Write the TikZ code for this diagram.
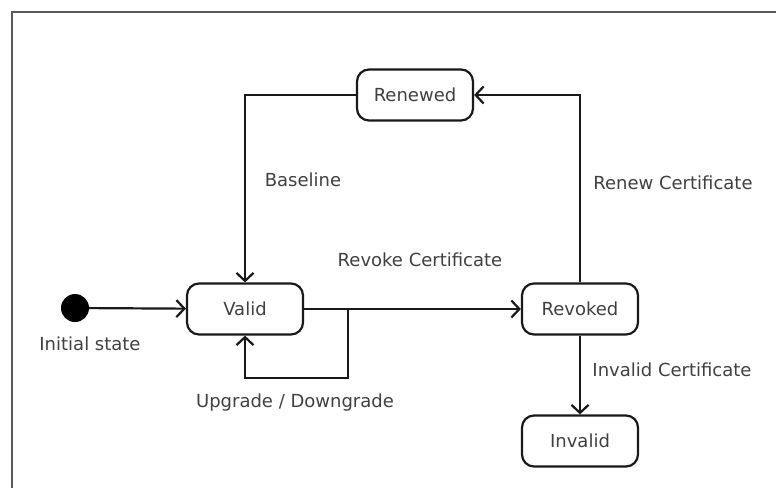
\documentclass[tikz,border=0pt]{standalone}
\usepackage{fontspec}
\setmainfont{DejaVu Sans}
\usetikzlibrary{arrows.meta}
\begin{document}
\begin{tikzpicture}[x=1pt,y=-1pt,
  state/.style={draw=black!90, line width=2.2pt, rounded corners=12pt,
    minimum width=116pt, minimum height=51pt, inner sep=0pt,
    font=\fontsize{18}{21}\selectfont, text=black!75},
  lbl/.style={font=\fontsize{18}{21}\selectfont, text=black!75, inner sep=0pt},
  arr/.style={draw=black!90, line width=2.2pt,
    -{Straight Barb[length=8pt,width=17pt,line width=2.2pt]}}]
\useasboundingbox (0,0) rectangle (776,488);
% outer frame (top and left edges)
\draw[black!65, line width=2pt] (776,12) -- (12,12) -- (12,488);

% states
\node[circle, fill=black, minimum size=28pt, inner sep=0pt] (init) at (75,308) {};
\node[state] (valid) at (245,309) {Valid};
\node[state] (revoked) at (580,309) {Revoked};
\node[state] (renewed) at (415,95) {Renewed};
\node[state] (invalid) at (580,441) {Invalid};

% labels
\node[lbl] (initlbl) at (90,344) {Initial state};
\node[lbl] (baseline) at (303,180) {Baseline};
\node[lbl] (revokelbl) at (420,260) {Revoke Certificate};
\node[lbl] (renewlbl) at (673,183) {Renew Certificate};
\node[lbl] (invalidlbl) at (672,370) {Invalid Certificate};
\node[lbl] (updown) at (295,403) {Upgrade / Downgrade};

% transitions
\draw[arr] (init) -- (valid);
\draw[arr] (renewed.west) -| (valid.north);
\draw[arr] (revoked.north) |- (renewed.east);
\draw[arr] (valid) -- (revoked);
\coordinate (loopa) at (348,309);
\coordinate (loopb) at (348,378);
\draw[arr] (loopa) -- (loopb) -| (valid.south);
\draw[arr] (revoked) -- (invalid);
\end{tikzpicture}
\end{document}
